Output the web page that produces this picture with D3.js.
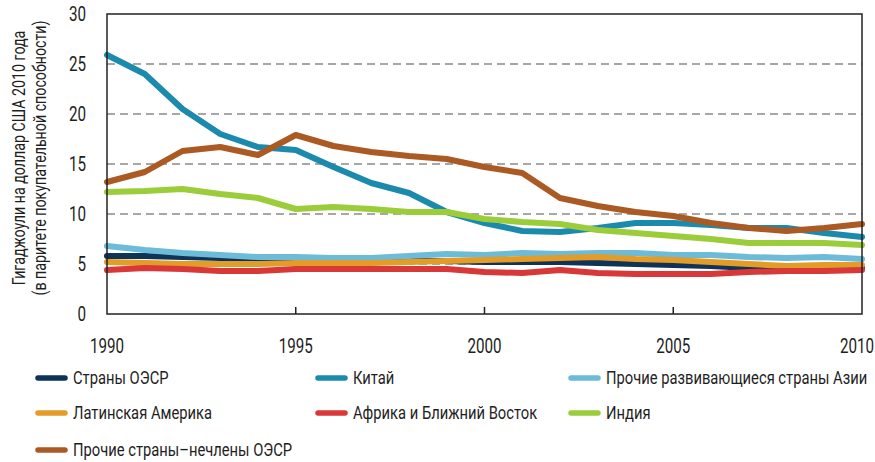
<!DOCTYPE html>
<html><head><meta charset="utf-8">
<script src="https://cdn.jsdelivr.net/npm/d3@7"></script>
<style>
html,body{margin:0;padding:0;background:#fff;}
text{font-family:Roboto,"Noto Sans",sans-serif;fill:#1e1e1e;}
</style></head>
<body><svg id="c" width="875" height="462"></svg>
<script>
const years = d3.range(1990, 2011);
const seriesNames = ["Страны ОЭСР","Китай","Прочие развивающиеся страны Азии","Латинская Америка","Африка и Ближний Восток","Индия","Прочие страны–нечлены ОЭСР"];
const seriesColors = ["#0e3358","#1b8aad","#6cbbd8","#e39c27","#d83838","#9bcd3b","#ab5a24"];
const oecd =      [5.8,5.8,5.7,5.6,5.5,5.5,5.4,5.4,5.3,5.3,5.2,5.2,5.2,5.1,5.0,4.9,4.8,4.6,4.6,4.6,4.6];
const china =     [25.9,24.0,20.5,18.0,16.7,16.4,14.7,13.1,12.1,10.2,9.1,8.3,8.2,8.6,9.1,9.1,8.9,8.6,8.6,8.1,7.7];
const otherAsia = [6.8,6.4,6.1,5.9,5.7,5.7,5.6,5.6,5.8,6.0,5.9,6.1,6.0,6.1,6.1,5.9,5.9,5.7,5.6,5.7,5.5];
const latAm =     [5.2,5.1,5.0,5.0,5.0,5.1,5.1,5.1,5.2,5.3,5.4,5.5,5.6,5.7,5.5,5.4,5.2,5.0,4.8,4.9,4.9];
const africa =    [4.4,4.6,4.5,4.3,4.3,4.5,4.5,4.5,4.5,4.5,4.2,4.1,4.4,4.1,4.0,4.0,4.0,4.2,4.3,4.3,4.4];
const india =     [12.2,12.3,12.5,12.0,11.6,10.5,10.7,10.5,10.2,10.2,9.5,9.2,9.0,8.4,8.1,7.8,7.5,7.1,7.1,7.1,6.9];
const otherNon =  [13.2,14.2,16.3,16.7,15.9,17.9,16.8,16.2,15.8,15.5,14.7,14.1,11.6,10.8,10.2,9.8,9.1,8.6,8.3,8.6,9.0];
const seriesValues = [oecd,china,otherAsia,latAm,africa,india,otherNon];
const yTicks = [0,5,10,15,20,25,30];
const xTicks = [1990,1995,2000,2005,2010];
const yTitle = ["Гигаджоули на доллар США 2010 года","(в паритете покупательной способности)"];

function draw(){
const W=875;
const svg = d3.select("#c");
const L=107, R=862, T=14, B=314;
const x = d3.scaleLinear().domain([1990,2010]).range([L,R]);
const y = d3.scaleLinear().domain([0,30]).range([B,T]);

// condensed look: horizontal scale on the glyphs
function cond(sel, fx, fy, k, rot){
  sel.attr("x",0).attr("y",0)
     .attr("transform",(d,i)=>`translate(${fx(d,i)},${fy(d,i)})${rot?" rotate(-90)":""} scale(${k},1)`);
}

svg.append("g").selectAll("line").data(yTicks.filter(v=>v>0&&v<30)).join("line")
  .attr("x1",L).attr("x2",R).attr("y1",d=>y(d)).attr("y2",d=>y(d))
  .attr("stroke","#8a8a8a").attr("stroke-width",1.3).attr("stroke-dasharray","8,5");

svg.append("g").selectAll("text").data(yTicks).join("text")
  .attr("text-anchor","end").attr("dy","0.36em")
  .attr("font-size",19.5).text(d=>d)
  .call(cond,()=>86,d=>y(d),0.78);

const xk=0.74;
const xl = svg.append("g").selectAll("text").data(xTicks).join("text")
  .attr("text-anchor","middle").attr("font-size",20.5).text(d=>d);
xl.each(function(d){
  const w=this.getComputedTextLength()*xk;
  const cx=Math.min(x(d), W-1-w/2);
  d3.select(this).attr("x",0).attr("y",0).attr("transform",`translate(${cx},353) scale(${xk},1)`);
});

svg.append("g").selectAll("line").data(xTicks.slice(1,-1)).join("line")
  .attr("x1",d=>x(d)).attr("x2",d=>x(d)).attr("y1",B).attr("y2",B-7)
  .attr("stroke","#222").attr("stroke-width",1.5);

const line = d3.line().x((d,i)=>x(years[i])).y(d=>y(d));
svg.append("g").selectAll("path").data(seriesValues).join("path")
  .attr("d",line).attr("fill","none")
  .attr("stroke",(d,i)=>seriesColors[i]).attr("stroke-width",6)
  .attr("stroke-linejoin","round").attr("stroke-linecap","round");

svg.append("rect").attr("x",L).attr("y",T).attr("width",R-L).attr("height",B-T)
  .attr("fill","none").attr("stroke","#222").attr("stroke-width",1.5);

svg.append("g").selectAll("text").data(yTitle).join("text")
  .attr("text-anchor","middle").attr("font-size",18).text(d=>d)
  .call(cond,(d,i)=>i?46:25,()=>158,0.79,true);

const legX=[35,315,568], legY=[378,413,450];
const leg = svg.append("g").selectAll("g").data(seriesNames).join("g")
  .attr("transform",(d,i)=>`translate(${legX[i%3]},${legY[Math.floor(i/3)]})`);
leg.append("line").attr("x1",3).attr("x2",30).attr("y1",0).attr("y2",0)
  .attr("stroke",(d,i)=>seriesColors[i]).attr("stroke-width",5.5).attr("stroke-linecap","round");
leg.append("text").attr("dy","0.36em").attr("font-size",18).text(d=>d)
  .call(cond,()=>38,()=>0,0.82);
}
document.fonts.load("18px Roboto","ПрочиеАзии0123").then(draw, draw);
</script></body></html>
